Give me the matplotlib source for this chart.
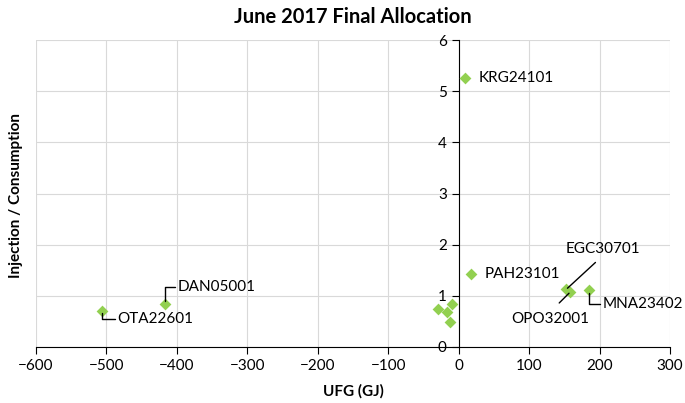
import matplotlib
matplotlib.use('Agg')
from matplotlib import pyplot as plt

plt.rcParams['font.family'] = ['Lato', 'DejaVu Sans']

# UFG (GJ) vs injection/consumption ratio
ufg = [9, 17.5, 153, 158, 184.5, -29, -16, -10, -12, -417, -506]
ratio = [5.26, 1.43, 1.13, 1.07, 1.11, 0.74, 0.68, 0.84, 0.48, 0.84, 0.71]
names = ['KRG24101', 'PAH23101', 'EGC30701', 'OPO32001', 'MNA23402',
         '', '', '', '', 'DAN05001', 'OTA22601']

xticks = list(range(-600, 301, 100))
yticks = list(range(0, 7))

fig = plt.figure(figsize=(6.85, 4.03), dpi=100)
ax = fig.add_axes([36/685, 1-347/403, 634/685, 307/403])

ax.scatter(ufg, ratio, marker='D', s=36, color='#92D050', zorder=3, linewidths=0)

ax.set_xlim(-600, 300)
ax.set_ylim(0, 6)
ax.set_xticks(xticks)
ax.set_yticks(yticks)
ax.grid(True, color='#D9D9D9', lw=0.8)
ax.set_axisbelow(True)

for s in ['top', 'right']:
    ax.spines[s].set_visible(False)
ax.spines['left'].set_position(('data', 0))
ax.spines['left'].set_color('black')
ax.spines['bottom'].set_color('black')
ax.tick_params(axis='both', direction='out', length=5, labelsize=11, color='black')

ax.set_title('June 2017 Final Allocation', fontsize=14.5, fontweight='bold', pad=12)
ax.set_xlabel('UFG (GJ)', fontsize=11, fontweight='bold', labelpad=8)
fig.text(16/685, 1-195/403, 'Injection / Consumption', rotation=90, fontsize=11,
         fontweight='bold', ha='center', va='center')

fs = 11
elbow = dict(arrowstyle='-', color='black', lw=1,
             connectionstyle='angle,angleA=0,angleB=90,rad=0',
             shrinkA=0, shrinkB=2)

# plain labels
for i in [0, 1]:
    ax.annotate(names[i], (ufg[i], ratio[i]), xytext=(10, 0), textcoords='offset points',
                va='center', ha='left', fontsize=fs)

# labels with leader lines
ax.annotate(names[9], (ufg[9], ratio[9]), xytext=(9, 12), textcoords='offset points',
            va='center', ha='left', fontsize=fs, arrowprops=elbow)
ax.annotate(names[10], (ufg[10], ratio[10]), xytext=(11, -6), textcoords='offset points',
            va='center', ha='left', fontsize=fs, arrowprops=elbow)
ax.annotate(names[4], (ufg[4], ratio[4]), xytext=(10, -10), textcoords='offset points',
            va='center', ha='left', fontsize=fs, arrowprops=elbow)
ax.annotate(names[2], (ufg[2], ratio[2]), xytext=(26, 29), textcoords='offset points',
            va='center', ha='center', fontsize=fs,
            arrowprops=dict(arrowstyle='-', color='black', lw=1, shrinkA=4, shrinkB=1,
                            relpos=(0.5, 0)))
ax.annotate(names[3], (ufg[3], ratio[3]), xytext=(-14, -19), textcoords='offset points',
            va='center', ha='center', fontsize=fs,
            arrowprops=dict(arrowstyle='-', color='black', lw=1, shrinkA=6, shrinkB=1,
                            relpos=(0.5, 1)))

fig.savefig('out.png', dpi=100)
